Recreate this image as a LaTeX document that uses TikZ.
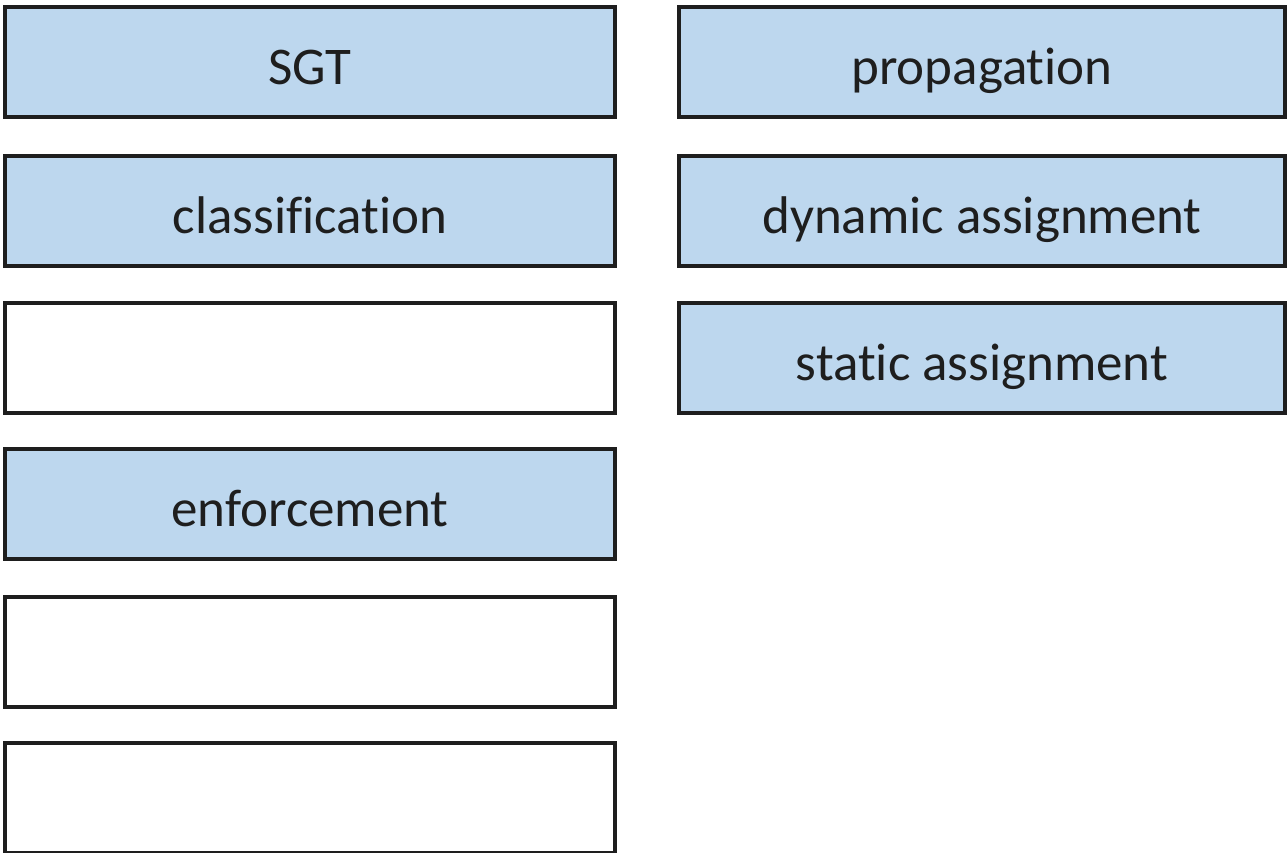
\documentclass[tikz,border=0pt]{standalone}
\usepackage{fontspec}
\setmainfont{Carlito}[RawFeature={-liga;-clig;-calt;-dlig}]
\definecolor{tagblue}{RGB}{189,215,238}
\definecolor{inkgray}{RGB}{30,30,30}
\usetikzlibrary{positioning}

\begin{document}
\begin{tikzpicture}[x=1pt,y=1pt,
    slot/.style={draw=inkgray,line width=3.2pt,fill=white,minimum width=610pt,minimum height=110pt,inner sep=0pt,outer sep=0pt},
    tag/.style={slot,fill=tagblue,text=inkgray,font=\fontsize{53}{60}\selectfont,text height=47pt,text depth=3pt},
    rtag/.style={tag,minimum width=606pt}]
  \useasboundingbox (0,0) rectangle (1287,-852);
  \clip (0,0) rectangle (1287,-852);
  \node[tag] (sgt) at (310,-62) {SGT};
  \node[tag] (classif) at (310,-211) {classification};
  \node[slot] (blank1) at (310,-358) {};
  \node[tag] (enforce) at (310,-504) {enforcement};
  \node[slot] (blank2) at (310,-652) {};
  \node[slot] (blank3) at (310,-798) {};
  \node[rtag] (propag) at (982,-62) {propagation};
  \node[rtag] (dynamic) at (982,-211) {dynamic assignment};
  \node[rtag] (static) at (982,-358) {static assignment};
\end{tikzpicture}
\end{document}
